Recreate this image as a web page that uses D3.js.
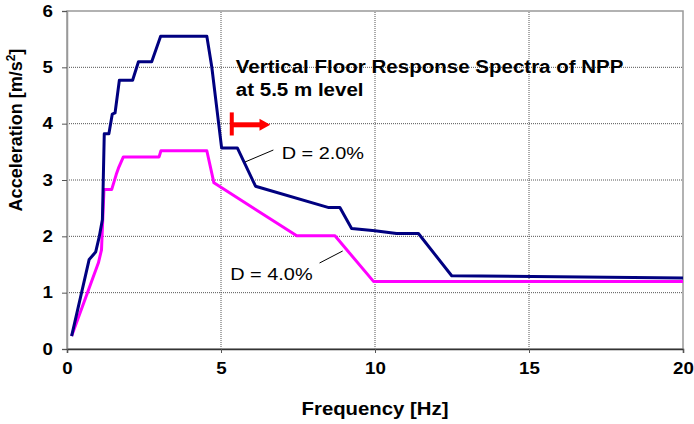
<!DOCTYPE html>
<html>
<head>
<meta charset="utf-8">
<script src="https://cdn.jsdelivr.net/npm/d3@7"></script>
<style>
  body { margin: 0; background: #fff; }
  text { font-family: "Liberation Sans", Arial, sans-serif; }
</style>
</head>
<body>
<div id="chart"></div>
<script>
/* CONSTANTS AND GLOBALS */
const width = 694,
  height = 424,
  margin = ({top: 11, right: 11, bottom: 75, left: 67})

// the original picture is a bit wider than tall, so horizontal text gets stretched
const stretch = 1.17

// data: [frequency Hz, acceleration m/s2]
const damp2 = [
  [0.15, 0.23], [0.72, 1.59], [0.93, 1.72], [1.05, 2.0], [1.15, 2.3],
  [1.21, 3.82], [1.36, 3.82], [1.47, 4.17], [1.56, 4.19], [1.70, 4.77],
  [2.13, 4.77], [2.32, 5.10], [2.75, 5.10], [3.04, 5.55], [4.54, 5.55],
  [4.70, 5.01], [5.02, 3.57], [5.53, 3.57], [6.12, 2.89], [8.5, 2.51],
  [8.86, 2.51], [9.24, 2.14], [10.0, 2.10], [10.7, 2.05], [11.41, 2.05],
  [12.49, 1.30], [20, 1.26]
];
const damp4 = [
  [0.15, 0.23], [1.02, 1.53], [1.12, 1.76], [1.2, 2.83], [1.45, 2.83],
  [1.6, 3.1], [1.67, 3.21], [1.83, 3.41], [2.99, 3.41], [3.05, 3.52],
  [4.54, 3.52], [4.77, 2.95], [7.46, 2.01], [8.7, 2.01], [9.95, 1.2],
  [20, 1.2]
];
const xTicks = [0, 5, 10, 15, 20];
const yTicks = [0, 1, 2, 3, 4, 5, 6];

const svg = d3.select("#chart")
  .append("svg")
  .attr("width", width)
  .attr("height", height)

// widen a text by a factor
function widen(sel, k = stretch) {
  sel.each(function() {
    const w = this.getComputedTextLength()
    d3.select(this)
      .attr("textLength", w * k)
      .attr("lengthAdjust", "spacingAndGlyphs")
  })
}

const x = d3.scaleLinear()
  .domain([0, 20])
  .range([margin.left, width - margin.right])

const y = d3.scaleLinear()
  .domain([0, 6])
  .range([height - margin.bottom, margin.top])

// gridlines
svg.append("g")
  .selectAll("line.hgrid")
  .data(yTicks.slice(1, -1))
  .join("line")
  .attr("class", "hgrid")
  .attr("x1", x(0)).attr("x2", x(20))
  .attr("y1", d => y(d)).attr("y2", d => y(d))
  .attr("stroke", "#555")
  .attr("stroke-width", 1)
  .attr("stroke-dasharray", "1,1")

svg.append("g")
  .selectAll("line.vgrid")
  .data(xTicks.slice(1, -1))
  .join("line")
  .attr("class", "vgrid")
  .attr("x1", d => x(d)).attr("x2", d => x(d))
  .attr("y1", y(0)).attr("y2", y(6))
  .attr("stroke", "#555")
  .attr("stroke-width", 1)
  .attr("stroke-dasharray", "1,1")

// frame
svg.append("rect")
  .attr("x", x(0)).attr("y", y(6))
  .attr("width", x(20) - x(0)).attr("height", y(0) - y(6))
  .attr("fill", "none")
  .attr("stroke", "#999")
  .attr("stroke-width", 1.5)

// axes
const yAxis = d3.axisLeft(y).tickValues(yTicks).tickFormat(d3.format("d")).tickSize(5).tickPadding(9)
const xAxis = d3.axisBottom(x).tickValues(xTicks).tickFormat(d3.format("d")).tickSize(4).tickPadding(10)

const gy = svg.append("g")
  .attr("transform", `translate(${x(0)},0)`)
  .call(yAxis)
gy.select(".domain").attr("stroke", "#999").attr("stroke-width", 1.5)
gy.selectAll(".tick line").attr("stroke", "#555")
gy.selectAll("text")
  .style("font-size", "16px")
  .style("font-weight", "bold")
  .attr("fill", "#000")
  .call(widen)

const gx = svg.append("g")
  .attr("transform", `translate(0,${y(0)})`)
  .call(xAxis)
gx.select(".domain").attr("stroke", "#333").attr("stroke-width", 1.5)
gx.selectAll(".tick line").attr("stroke", "#555")
gx.selectAll("text")
  .style("font-size", "16px")
  .style("font-weight", "bold")
  .attr("fill", "#000")
  .call(widen)

// curves
const line = d3.line().x(d => x(d[0])).y(d => y(d[1]))

svg.append("path")
  .attr("d", line(damp4))
  .attr("fill", "none")
  .attr("stroke", "#ff00ff")
  .attr("stroke-width", 3)
  .attr("stroke-linejoin", "round")

svg.append("path")
  .attr("d", line(damp2))
  .attr("fill", "none")
  .attr("stroke", "#000080")
  .attr("stroke-width", 3)
  .attr("stroke-linejoin", "round")

// axis titles
svg.append("text")
  .text("Frequency [Hz]")
  .attr("x", x(10))
  .attr("y", 415)
  .attr("text-anchor", "middle")
  .style("font-size", "19px")
  .style("font-weight", "bold")
  .call(widen, 1.07)

const ylab = svg.append("text")
  .attr("transform", `translate(22,130) rotate(-90)`)
  .attr("text-anchor", "middle")
  .style("font-size", "18px")
  .style("font-weight", "bold")
ylab.append("tspan").text("Acceleration [m/s")
ylab.append("tspan").text("2").attr("dy", -7).style("font-size", "12px")
ylab.append("tspan").text("]").attr("dy", 7)

// chart title
svg.append("text")
  .attr("x", x(5.48))
  .attr("y", 73)
  .style("font-size", "18px")
  .style("font-weight", "bold")
  .text("Vertical Floor Response Spectra of NPP")
  .call(widen, 1.14)
svg.append("text")
  .attr("x", x(5.48))
  .attr("y", 96)
  .style("font-size", "18px")
  .style("font-weight", "bold")
  .text("at 5.5 m level")
  .call(widen, 1.14)

// red arrow
svg.append("line")
  .attr("x1", x(5.35)).attr("x2", x(5.35))
  .attr("y1", y(4.2)).attr("y2", y(3.79))
  .attr("stroke", "#ff0000")
  .attr("stroke-width", 4)
svg.append("line")
  .attr("x1", x(5.35)).attr("x2", x(6.3))
  .attr("y1", y(3.98)).attr("y2", y(3.98))
  .attr("stroke", "#ff0000")
  .attr("stroke-width", 5)
svg.append("path")
  .attr("d", d3.line()([[x(6.25), y(3.98) - 6], [x(6.6), y(3.98)], [x(6.25), y(3.98) + 6]]))
  .attr("fill", "#ff0000")

// damping labels with leader lines
svg.append("text")
  .text("D = 2.0%")
  .attr("x", x(6.97))
  .attr("y", 159)
  .style("font-size", "17px")
  .call(widen)
svg.append("line")
  .attr("x1", x(6.7)).attr("y1", 150)
  .attr("x2", x(5.78)).attr("y2", 162)
  .attr("stroke", "#000").attr("stroke-width", 1)

svg.append("text")
  .text("D = 4.0%")
  .attr("x", x(5.3))
  .attr("y", 280)
  .style("font-size", "17px")
  .call(widen)
svg.append("line")
  .attr("x1", x(8.2)).attr("y1", 263)
  .attr("x2", x(8.95)).attr("y2", 251)
  .attr("stroke", "#000").attr("stroke-width", 1)
</script>
</body>
</html>
